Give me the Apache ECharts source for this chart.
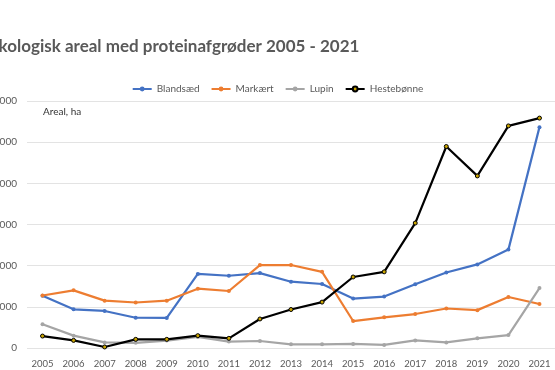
<!DOCTYPE html>
<html><head><meta charset="utf-8">
<script src="https://cdn.jsdelivr.net/npm/echarts@6/dist/echarts.min.js"></script>
<style>html,body{margin:0;padding:0;background:#fff}#c{width:555px;height:370px}</style>
</head><body><div id="c"></div>
<script>
const years = ['2005','2006','2007','2008','2009','2010','2011','2012','2013','2014','2015','2016','2017','2018','2019','2020','2021'];
const blandsaed = [1270, 940, 900, 735, 730, 1800, 1755, 1820, 1610, 1555, 1200, 1250, 1550, 1835, 2030, 2390, 5365];
const markaert  = [1275, 1400, 1150, 1105, 1150, 1440, 1385, 2015, 2015, 1850, 655, 745, 825, 960, 920, 1240, 1070];
const lupin     = [575, 300, 135, 125, 180, 270, 155, 170, 90, 90, 100, 75, 185, 135, 235, 315, 1455];
const hestebonne= [290, 185, 25, 210, 210, 300, 235, 705, 935, 1115, 1725, 1850, 3035, 4895, 4180, 5395, 5585];
const seriesNames = ['Blandsæd','Markært','Lupin','Hestebønne'];
const yTicks = [0, 1000, 2000, 3000, 4000, 5000, 6000];

const chart = echarts.init(document.getElementById('c'), null, {renderer:'canvas'});
const font = 'Lato, "Open Sans", sans-serif';
function mk(name, data, color, mfill){
  return {name, type:'line', data, symbol:'circle', symbolSize:4, showSymbol:true,
    lineStyle:{color, width:2.2}, itemStyle:{color: mfill||color, borderColor: color, borderWidth: mfill?1:0},
    emphasis:{disabled:true}, animation:false};
}
chart.setOption({
  animation:false,
  graphic:[
    {type:'text', left:-15, top:38, style:{text:'Økologisk areal med proteinafgrøder 2005 - 2021', fontFamily:font, fontSize:17, fontWeight:'bold', fill:'#595959'}},
    {type:'text', left:43, top:107, style:{text:'Areal, ha', fontFamily:font, fontSize:10, fill:'#333333'}}
  ],
  legend:{data:seriesNames, top:79, left:'center', itemWidth:19, itemHeight:6, itemGap:11,
    textStyle:{fontFamily:font, fontSize:10, color:'#595959'}},
  grid:{left:27, right:0, top:101, bottom:22, outerBoundsMode:'none', containLabel:false},
  xAxis:{type:'category', data:years, boundaryGap:true,
    axisLine:{show:false}, axisTick:{show:false},
    axisLabel:{fontFamily:font, fontSize:9.5, color:'#595959', margin:11, interval:0}},
  yAxis:{type:'value', min:yTicks[0], max:yTicks[yTicks.length-1], interval:1000,
    axisLine:{show:false}, axisTick:{show:false},
    splitLine:{lineStyle:{color:'#e3e3e3', width:1}},
    axisLabel:{fontFamily:font, fontSize:10, color:'#595959', margin:10,
      formatter:v=> v===0?'0': (Math.floor(v/1000)+'.'+String(v%1000).padStart(3,'0'))}},
  series:[
    mk(seriesNames[0], blandsaed, '#4472C4'),
    mk(seriesNames[1], markaert, '#ED7D31'),
    mk(seriesNames[2], lupin, '#A5A5A5'),
    mk(seriesNames[3], hestebonne, '#000000', '#C9A400')
  ]
});
</script></body></html>
